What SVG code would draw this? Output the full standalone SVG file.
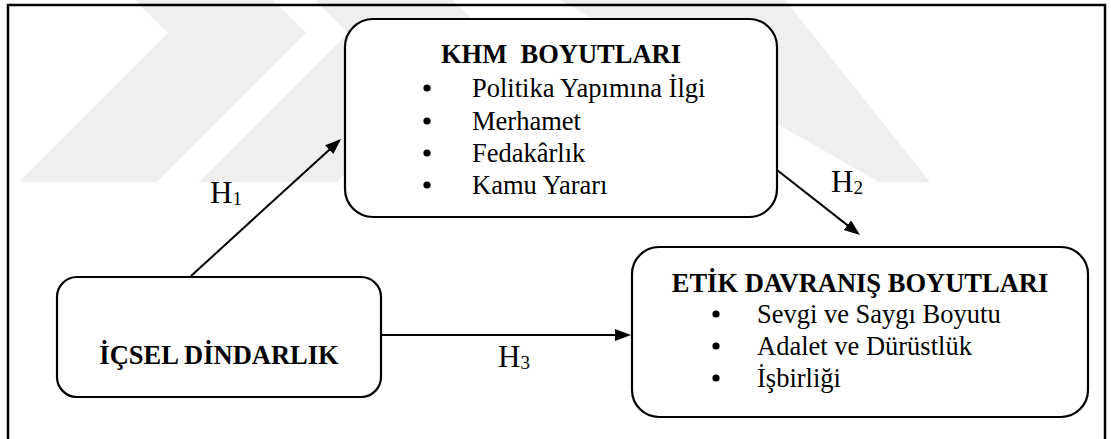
<svg xmlns="http://www.w3.org/2000/svg" width="1111" height="439" viewBox="0 0 1111 439">
<style>
.wm{fill:#efefef;stroke:none}
.box{fill:#ffffff;stroke:#000;stroke-width:2.2}
.t{font-family:"Liberation Serif","Times New Roman",serif;fill:#000}
.title{font-size:26.5px;font-weight:bold;text-anchor:middle}
.item{font-size:26.5px}
.h{font-size:31px}
.sub{font-size:19px}
.conn{stroke:#000;stroke-width:2;fill:none;marker-end:url(#ah)}
.dot{fill:#000}
</style>
<defs>
<marker id="ah" markerUnits="userSpaceOnUse" markerWidth="17" markerHeight="13" refX="8" refY="6" orient="auto">
<path d="M0,0 L16,6 L0,12 z" fill="#000"/>
</marker>
</defs>
<rect width="1111" height="439" fill="#ffffff"/>
<g id="watermark">
<polygon class="wm" points="135,0 273,0 306,33 157,182 19,182 168,33"/>
<polygon class="wm" points="315,0 453,0 486,33 337,182 199,182 348,33"/>
<polygon class="wm" points="560,0 785,0 930,182 879,182"/>
</g>
<rect id="frame" x="8" y="5" width="1097" height="450" fill="none" stroke="#000" stroke-width="2.5"/>
<g id="connectors">
<line class="conn" x1="191" y1="276" x2="335.1" y2="144.4"/>
<line class="conn" x1="777" y1="170" x2="853.7" y2="230.1"/>
<line class="conn" x1="381" y1="335" x2="623" y2="335"/>
<text class="t h" x="210" y="203">H<tspan class="sub" dy="2">1</tspan></text>
<text class="t h" x="831" y="192">H<tspan class="sub" dy="2">2</tspan></text>
<text class="t h" x="498" y="367">H<tspan class="sub" dy="2">3</tspan></text>
</g>
<g id="khm">
<rect class="box" x="345" y="19" width="432" height="198" rx="28" ry="28"/>
<text class="t title" x="561" y="63" xml:space="preserve">KHM  BOYUTLARI</text>
<circle class="dot" cx="427" cy="88" r="3.6"/>
<circle class="dot" cx="427" cy="121" r="3.6"/>
<circle class="dot" cx="427" cy="153" r="3.6"/>
<circle class="dot" cx="427" cy="185" r="3.6"/>
<text class="t item" x="472" y="97">Politika Yapımına İlgi</text>
<text class="t item" x="472" y="130">Merhamet</text>
<text class="t item" x="472" y="162">Fedakârlık</text>
<text class="t item" x="472" y="194">Kamu Yararı</text>
</g>
<g id="icsel">
<rect class="box" x="57" y="277" width="324" height="120" rx="20" ry="20"/>
<text class="t title" x="219" y="364">İÇSEL DİNDARLIK</text>
</g>
<g id="etik">
<rect class="box" x="632" y="247" width="456" height="170" rx="27" ry="27"/>
<text class="t title" x="860" y="292">ETİK DAVRANIŞ BOYUTLARI</text>
<circle class="dot" cx="716" cy="314" r="3.6"/>
<circle class="dot" cx="716" cy="346" r="3.6"/>
<circle class="dot" cx="716" cy="378" r="3.6"/>
<text class="t item" x="757" y="323">Sevgi ve Saygı Boyutu</text>
<text class="t item" x="757" y="355">Adalet ve Dürüstlük</text>
<text class="t item" x="757" y="387">İşbirliği</text>
</g>
</svg>
